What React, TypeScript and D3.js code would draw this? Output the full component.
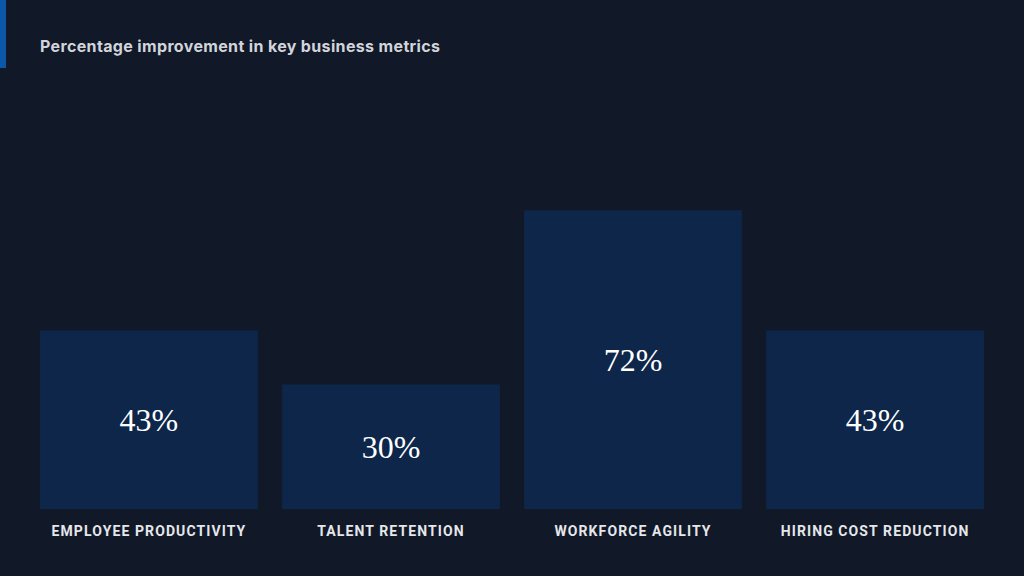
import React from "react";
import * as d3 from "d3";

const categories = ["EMPLOYEE PRODUCTIVITY", "TALENT RETENTION", "WORKFORCE AGILITY", "HIRING COST REDUCTION"];
const values = [43, 30, 72, 43];
const title = "Percentage improvement in key business metrics";

const W = 1024;
const H = 576;

export default function App() {
  const x = d3.scaleBand<string>().domain(categories).range([40, 984]).paddingInner(0.1).paddingOuter(0);
  const y = d3.scaleLinear().domain([0, 100]).range([509, 94]);
  return (
    <svg width={W} height={H} style={{ position: "fixed", left: 0, top: 0, display: "block" }}>
      <rect x={0} y={0} width={W} height={H} fill="#111827" />
      <rect x={0} y={0} width={6} height={68} fill="#0b57a8" />
      <text x={40} y={52} fill="#d1d5db" fontFamily="Inter, 'Noto Sans', sans-serif" fontWeight={700} fontSize={16} letterSpacing={0.35}>
        {title}
      </text>
      {categories.map((c, i) => {
        const bx = x(c)!;
        const bw = x.bandwidth();
        const top = y(values[i]);
        const bottom = y(0);
        return (
          <g key={c}>
            <rect x={bx} y={top} width={bw} height={bottom - top} fill="#0d264a" />
            <text
              x={bx + bw / 2}
              y={(top + bottom) / 2}
              textAnchor="middle"
              dominantBaseline="central"
              fill="#ffffff"
              fontFamily="'Liberation Serif', serif"
              fontSize={32}
            >
              {values[i]}%
            </text>
            <text
              x={bx + bw / 2}
              y={536}
              textAnchor="middle"
              fill="#e5e7eb"
              fontFamily="Roboto, sans-serif"
              fontWeight={700}
              fontSize={14}
              letterSpacing={1.1}
            >
              {c}
            </text>
          </g>
        );
      })}
    </svg>
  );
}
